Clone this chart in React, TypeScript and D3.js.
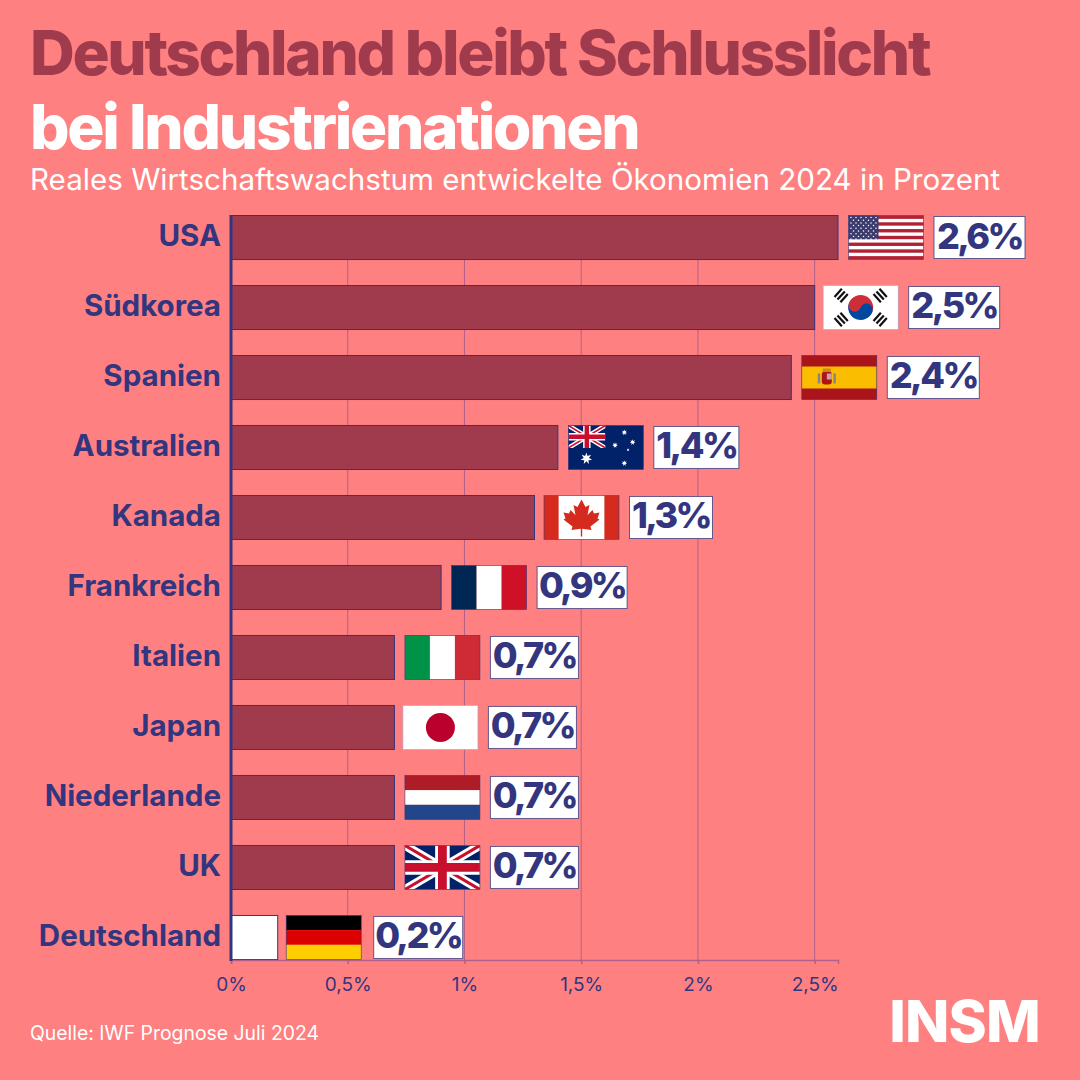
import { useEffect, useRef } from 'react';
import * as d3 from 'd3';

const countries = ['USA', 'Südkorea', 'Spanien', 'Australien', 'Kanada', 'Frankreich', 'Italien', 'Japan', 'Niederlande', 'UK', 'Deutschland'];
const growth = [2.6, 2.5, 2.4, 1.4, 1.3, 0.9, 0.7, 0.7, 0.7, 0.7, 0.2];
const xTicks = [0, 0.5, 1, 1.5, 2, 2.5];

const BG = '#ff8080';
const BAR = '#a03b4e';
const BLUE = '#33367f';
const GRID = '#b0608c';
const FONT = 'Inter, sans-serif';
const FW = 75;
const FH = 44;

const x = d3.scaleLinear().domain([0, 2.6]).range([231, 838]);
const y = d3.scaleBand().domain(countries).range([215.5, 959.5]).paddingInner(0.371);

const comma = (v: number) => String(v).replace('.', ',');

// small corrections, the flags in the original are placed by hand
const flagNudge: Record<string, number> = { 'Südkorea': -2, Kanada: -1, Japan: -2, Deutschland: -2 };
const boxWidth: Record<string, number> = { USA: 91, 'Südkorea': 91, Spanien: 92, Australien: 85, Kanada: 83, Frankreich: 90, Deutschland: 89 };

function Stripes({ colors, vertical }: { colors: string[]; vertical?: boolean }) {
  return (
    <>
      {colors.map((c, i) =>
        vertical
          ? <rect key={i} x={(i * FW) / colors.length} y={0} width={FW / colors.length} height={FH} fill={c} />
          : <rect key={i} x={0} y={(i * FH) / colors.length} width={FW} height={FH / colors.length} fill={c} />
      )}
    </>
  );
}

function UnionJack({ w, h }: { w: number; h: number }) {
  // nested svg so the diagonals get clipped at the flag edge
  return (
    <svg width={w} height={h}>
      <rect width={w} height={h} fill="#012169" />
      <path d={`M0,0L${w},${h}M${w},0L0,${h}`} stroke="#fff" strokeWidth={h * 0.2} />
      <path d={`M0,0L${w},${h}M${w},0L0,${h}`} stroke="#c8102e" strokeWidth={h * 0.07} />
      <path d={`M${w / 2},0V${h}M0,${h / 2}H${w}`} stroke="#fff" strokeWidth={h * 0.33} />
      <path d={`M${w / 2},0V${h}M0,${h / 2}H${w}`} stroke="#c8102e" strokeWidth={h * 0.2} />
    </svg>
  );
}

function star(cx: number, cy: number, r: number, n = 7) {
  const pts = d3.range(n * 2).map((i) => {
    const a = (i * Math.PI) / n - Math.PI / 2;
    const rr = i % 2 ? r * 0.45 : r;
    return `${cx + rr * Math.cos(a)},${cy + rr * Math.sin(a)}`;
  });
  return pts.join(' ');
}

function UsFlag() {
  const s = FH / 13;
  return (
    <>
      <rect width={FW} height={FH} fill="#fff" />
      {d3.range(0, 13, 2).map((i) => <rect key={i} y={i * s} width={FW} height={s} fill="#b22234" />)}
      <rect width={FW * 0.4} height={s * 7} fill="#3c3b6e" />
      {d3.range(9).map((r) =>
        d3.range(r % 2 ? 5 : 6).map((c) => (
          <circle key={`${r}-${c}`} cx={2.5 + (r % 2 ? 2.5 : 0) + c * 5} cy={2 + r * 2.7} r={0.75} fill="#fff" />
        ))
      )}
    </>
  );
}

function KoreaFlag() {
  const cx = FW / 2;
  const cy = FH / 2;
  const r = 12.5;
  const tri = [[-1, -1], [1, -1], [-1, 1], [1, 1]];
  return (
    <>
      <rect width={FW} height={FH} fill="#fff" />
      <g transform={`rotate(20 ${cx} ${cy})`}>
        <path d={`M${cx - r},${cy}A${r},${r} 0 0 1 ${cx + r},${cy}Z`} fill="#cd2e3a" />
        <path d={`M${cx - r},${cy}A${r},${r} 0 0 0 ${cx + r},${cy}Z`} fill="#0047a0" />
        <circle cx={cx - r / 2} cy={cy} r={r / 2} fill="#cd2e3a" />
        <circle cx={cx + r / 2} cy={cy} r={r / 2} fill="#0047a0" />
      </g>
      {tri.map(([dx, dy], i) => {
        const tx = cx + dx * 19.5;
        const ty = cy + dy * 12;
        const ang = (dx * dy > 0 ? -1 : 1) * 48;
        return (
          <g key={i} transform={`translate(${tx},${ty}) rotate(${ang})`}>
            {[-4, 0, 4].map((o) => <rect key={o} x={-5.5} y={o - 1.1} width={11} height={2.2} fill="#111" />)}
          </g>
        );
      })}
    </>
  );
}

function SpainFlag() {
  return (
    <>
      <rect width={FW} height={FH} fill="#aa151b" />
      <rect y={FH / 4} width={FW} height={FH / 2} fill="#fbbd00" />
      <rect x={20} y={16} width={10} height={13} rx={3} fill="#ad1519" />
      <rect x={25} y={18} width={5} height={6} fill="#c9a0a8" />
      <rect x={21} y={13} width={8} height={3.5} fill="#c8890f" />
      <rect x={16} y={18} width={2.4} height={10} fill="#8a7f8f" />
      <rect x={31.6} y={18} width={2.4} height={10} fill="#8a7f8f" />
    </>
  );
}

function AustraliaFlag() {
  const stars: [number, number, number][] = [[18, 33, 6], [56, 7, 3], [64.3, 16.7, 3], [46.7, 19.7, 3], [59.7, 24.3, 1.6], [56, 37.7, 3]];
  return (
    <>
      <rect width={FW} height={FH} fill="#012169" />
      <UnionJack w={37} h={22.5} />
      {stars.map(([a, b, r], i) => <polygon key={i} points={star(a, b, r)} fill="#fff" />)}
    </>
  );
}

function CanadaFlag() {
  return (
    <>
      <rect width={FW} height={FH} fill="#fff" />
      <rect width={FW * 0.195} height={FH} fill="#d52b1e" />
      <rect x={FW * 0.805} width={FW * 0.195} height={FH} fill="#d52b1e" />
      <path
        d="M37.5,4 L41.5,11.5 L45.5,9.5 L43.5,19.5 L48.5,14.5 L50,18 L55.5,17 L53.5,23 L55.5,24 L46.5,31 L47.5,34.5 L38.2,33.2 L38.2,41 L36.8,41 L36.8,33.2 L27.5,34.5 L28.5,31 L19.5,24 L21.5,23 L19.5,17 L25,18 L26.5,14.5 L31.5,19.5 L29.5,9.5 L33.5,11.5 Z"
        fill="#d52b1e"
      />
    </>
  );
}

function JapanFlag() {
  return (
    <>
      <rect width={FW} height={FH} fill="#fff" />
      <circle cx={FW / 2} cy={FH / 2} r={14.5} fill="#bc002d" />
    </>
  );
}

function Flag({ name }: { name: string }) {
  switch (name) {
    case 'USA': return <UsFlag />;
    case 'Südkorea': return <KoreaFlag />;
    case 'Spanien': return <SpainFlag />;
    case 'Australien': return <AustraliaFlag />;
    case 'Kanada': return <CanadaFlag />;
    case 'Frankreich': return <Stripes vertical colors={['#002654', '#fff', '#ce1126']} />;
    case 'Italien': return <Stripes vertical colors={['#009246', '#fff', '#ce2b37']} />;
    case 'Japan': return <JapanFlag />;
    case 'Niederlande': return <Stripes colors={['#ae1c28', '#fff', '#21468b']} />;
    case 'UK': return <UnionJack w={FW} h={FH} />;
    default: return <Stripes colors={['#000', '#dd0000', '#ffce00']} />;
  }
}

export default function App() {
  const xAxisRef = useRef<SVGGElement>(null);
  const yAxisRef = useRef<SVGGElement>(null);

  useEffect(() => {
    const gx = d3.select(xAxisRef.current!);
    gx.call(
      d3.axisBottom(x)
        .tickValues(xTicks)
        .tickSize(4)
        .tickPadding(14)
        .tickFormat((d) => `${comma(+d)}%`) as any
    );
    gx.selectAll('path, line').attr('stroke', GRID).attr('stroke-width', 1.5);
    gx.selectAll('text').attr('fill', BLUE).attr('font-size', 19).attr('font-family', FONT).attr('font-weight', 400);

    const gy = d3.select(yAxisRef.current!);
    gy.call(d3.axisLeft(y).tickSize(0).tickPadding(10) as any);
    gy.select('path').remove();
    gy.selectAll('text').attr('fill', BLUE).attr('font-size', 29.5).attr('font-family', FONT).attr('font-weight', 700).attr('dy', '0.29em');
  }, []);

  return (
    <svg width={1080} height={1080} style={{ position: 'absolute', left: 0, top: 0 }}>
      <rect width={1080} height={1080} fill={BG} />

      <text x={30} y={75} fontFamily={FONT} fontWeight={800} fontSize={62} letterSpacing={-2.35} fill={BAR}>Deutschland bleibt Schlusslicht</text>
      <text x={30} y={149} fontFamily={FONT} fontWeight={800} fontSize={62} letterSpacing={-2.25} fill="#fff">bei Industrienationen</text>
      <text x={30} y={190} fontFamily={FONT} fontWeight={400} fontSize={29.6} fill="#fff">Reales Wirtschaftswachstum entwickelte Ökonomien 2024 in Prozent</text>

      {xTicks.slice(1).map((t) => (
        <line key={t} x1={x(t)} x2={x(t)} y1={215} y2={960} stroke={GRID} strokeWidth={1} />
      ))}

      {countries.map((c, i) => {
        const by = y(c)!;
        const end = x(growth[i]);
        const fx = end + 10.5 + (flagNudge[c] ?? 0);
        const bx = fx + FW + 10.5 + (c === 'Deutschland' ? 2 : 0);
        const bw = boxWidth[c] ?? 88;
        return (
          <g key={c}>
            <rect x={x(0)} y={by} width={end - x(0)} height={y.bandwidth()} fill={c === 'Deutschland' ? '#fff' : BAR} stroke={BLUE} strokeWidth={1} />
            <g transform={`translate(${fx},${by})`}>
              <Flag name={c} />
              <rect width={FW} height={FH} fill="none" stroke={c === 'Japan' || c === 'Südkorea' ? '#a9a6cf' : BLUE} strokeWidth={0.6} />
            </g>
            <rect x={bx} y={by + 1} width={bw} height={42} fill="#fff" stroke={BLUE} strokeOpacity={0.75} strokeWidth={1} />
            <text x={bx + bw / 2} y={by + 33} textAnchor="middle" fontFamily={FONT} fontWeight={800} fontSize={36} letterSpacing={-2.6} fill={BLUE}>
              {comma(growth[i])}%
            </text>
          </g>
        );
      })}

      <g ref={xAxisRef} transform="translate(0,960)" />
      <g ref={yAxisRef} transform="translate(231,0)" />
      <line x1={231} x2={231} y1={215} y2={961} stroke={BLUE} strokeWidth={3} />

      <text x={30} y={1040} fontFamily={FONT} fontSize={19.4} fill="#fff">Quelle: IWF Prognose Juli 2024</text>
      <text x={1040} y={1042} textAnchor="end" fontFamily={FONT} fontWeight={800} fontSize={58} letterSpacing={-0.8} fill="#fff">INSM</text>
    </svg>
  );
}
